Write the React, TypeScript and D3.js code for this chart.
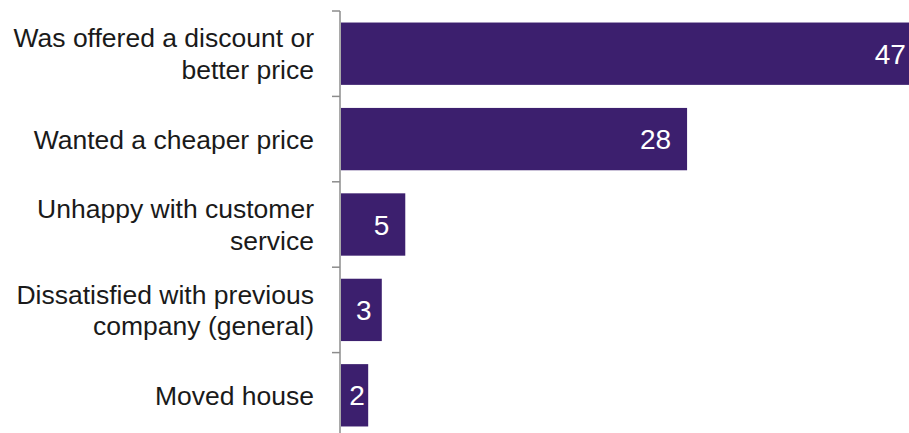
import React from "react";
import * as d3 from "d3";

const categories: string[][] = [
  ["Was offered a discount or", "better price"],
  ["Wanted a cheaper price"],
  ["Unhappy with customer", "service"],
  ["Dissatisfied with previous", "company (general)"],
  ["Moved house"],
];
const values: number[] = [47, 28, 5.2, 3.3, 2.2];
const valueLabels: string[] = ["47", "28", "5", "3", "2"];

const W = 909;
const H = 433;
const FONT = "'Liberation Sans', Arial, Helvetica, sans-serif";
const BAR = "#3c1f6e";

export default function App() {
  const y = d3
    .scaleBand<number>()
    .domain(d3.range(categories.length))
    .range([11, 438])
    .paddingInner(0.27)
    .paddingOuter(0.135);
  const step = y.step();
  const y0 = 11;
  const x = d3.scaleLinear().domain([0, 50]).range([341, 959]);
  const catFs = 26.5;
  const valFs = 28;
  const lineH = 31.6;
  const capH = catFs * 0.716;
  const inset = 16;

  return (
    <svg
      width={W}
      height={H}
      style={{ position: "absolute", left: 0, top: 0, overflow: "hidden", background: "#fff" }}
      fontFamily={FONT}
    >
      {values.map((v, i) => {
        const by = y(i)!;
        const bh = y.bandwidth();
        const x1 = x(v);
        const bw = x1 - x(0);
        const lw = valueLabels[i].length * 0.556 * valFs;
        const fits = bw >= lw + 2 * inset;
        const lx = fits ? x1 - inset - lw / 2 : x(0) + bw / 2 + 2.5;
        return (
          <g key={i}>
            <rect x={x(0)} y={by} width={bw} height={bh} fill={BAR} />
            <text
              x={lx}
              y={by + bh / 2 + valFs * 0.716 / 2}
              textAnchor="middle"
              fill="#ffffff"
              fontSize={valFs}
            >
              {valueLabels[i]}
            </text>
          </g>
        );
      })}
      {categories.map((lines, i) => {
        const c = y0 + step * (i + 0.5);
        const n = lines.length;
        return (
          <text key={i} textAnchor="end" fontSize={catFs} fill="#1a1a1a">
            {lines.map((l, j) => (
              <tspan key={j} x={314} y={c + capH / 2 + (j - (n - 1) / 2) * lineH}>
                {l}
              </tspan>
            ))}
          </text>
        );
      })}
      <line x1={340} x2={340} y1={y0} y2={438} stroke="#8c8c8c" strokeWidth={1.5} />
      {d3.range(categories.length + 1).map((k) => (
        <line
          key={k}
          x1={332}
          x2={340}
          y1={y0 + step * k}
          y2={y0 + step * k}
          stroke="#8c8c8c"
          strokeWidth={1.5}
        />
      ))}
    </svg>
  );
}
